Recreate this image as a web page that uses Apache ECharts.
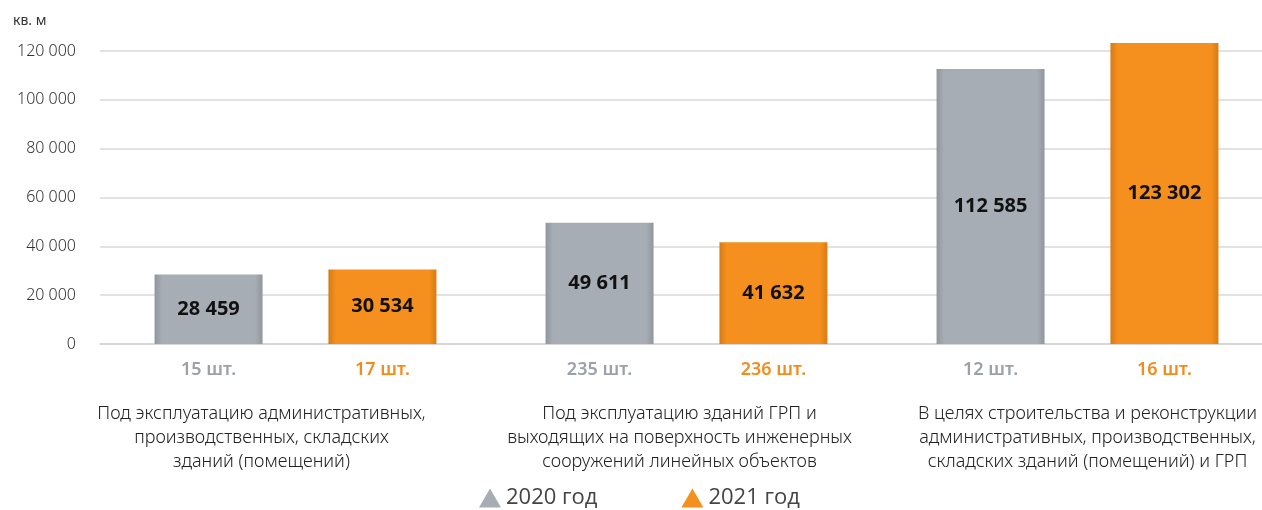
<!DOCTYPE html>
<html>
<head>
<meta charset="utf-8">
<script src="https://cdn.jsdelivr.net/npm/echarts@6/dist/echarts.min.js"></script>
<style>
  html, body { margin: 0; padding: 0; background: #fff; }
  #chart { width: 1262px; height: 510px; }
</style>
</head>
<body>
<div id="chart"></div>
<script>
// данные
var categories = [
    'Под эксплуатацию административных,\nпроизводственных, складских\nзданий (помещений)',
    'Под эксплуатацию зданий ГРП и\nвыходящих на поверхность инженерных\nсооружений линейных объектов',
    'В целях строительства и реконструкции\nадминистративных, производственных,\nскладских зданий (помещений) и ГРП'
];
var values2020 = [28459, 49611, 112585];
var values2021 = [30534, 41632, 123302];
var counts2020 = ['15 шт.', '235 шт.', '12 шт.'];
var counts2021 = ['17 шт.', '236 шт.', '16 шт.'];
var yTicks = { min: 0, max: 120000, step: 20000 };

var font = '"Noto Sans", "Open Sans", sans-serif';

function fmt(v) {
    return String(v).replace(/\B(?=(\d{3})+(?!\d))/g, ' ');
}

function barGradient(edge, mid) {
    return new echarts.graphic.LinearGradient(0, 0, 1, 0, [
        { offset: 0, color: edge },
        { offset: 0.07, color: mid },
        { offset: 0.93, color: mid },
        { offset: 1, color: edge }
    ]);
}

var chart = echarts.init(document.getElementById('chart'));

var valueLabel = {
    show: true,
    position: 'inside',
    color: '#111',
    fontFamily: font,
    fontWeight: 'bold',
    fontSize: 20,
    formatter: function (p) { return fmt(p.value); }
};

function countSeries(name, stack, counts, color) {
    return {
        name: name,
        type: 'bar',
        stack: stack,
        barWidth: 108,
        barGap: '61%',
        data: [0, 0, 0],
        itemStyle: { color: 'transparent' },
        label: {
            show: true,
            position: 'bottom',
            distance: 17,
            color: color,
            fontFamily: font,
            fontWeight: 600,
            fontSize: 18,
            formatter: function (p) { return counts[p.dataIndex]; }
        },
        silent: true
    };
}

var option = {
    backgroundColor: '#ffffff',
    animation: false,
    title: {
        text: 'кв. м',
        left: 8,
        top: 9,
        textStyle: { fontFamily: font, fontSize: 14, fontWeight: 'normal', color: '#333' }
    },
    legend: {
        left: 474,
        bottom: -4,
        icon: 'triangle',
        itemWidth: 22,
        itemHeight: 19,
        itemGap: 84,
        textStyle: { fontFamily: '"Open Sans", sans-serif', fontSize: 22, color: '#444' },
        data: [
            { name: '2020 год', itemStyle: { color: '#a7adb4' } },
            { name: '2021 год', itemStyle: { color: '#f5901e' } }
        ]
    },
    grid: {
        top: 51,
        bottom: 166,
        left: 100,
        width: 1173,
        outerBoundsMode: 'none'
    },
    xAxis: {
        type: 'category',
        data: [
            { value: categories[0], textStyle: { padding: [0, 68, 0, 0] } },
            { value: categories[1], textStyle: { padding: [0, 14, 0, 0] } },
            { value: categories[2], textStyle: { padding: [0, 0, 0, 20] } }
        ],
        axisLine: { lineStyle: { color: '#d4d4d4', width: 1.5 } },
        axisTick: { show: false },
        axisLabel: {
            interval: 0,
            margin: 58,
            lineHeight: 24,
            fontFamily: font,
            fontWeight: 300,
            fontSize: 18,
            color: '#222'
        }
    },
    yAxis: {
        type: 'value',
        min: yTicks.min,
        max: yTicks.max,
        interval: yTicks.step,
        axisLine: { show: false },
        axisTick: { show: false },
        splitLine: { lineStyle: { color: '#d9d9d9', width: 1.5 } },
        axisLabel: {
            margin: 24,
            fontFamily: font,
            fontWeight: 300,
            fontSize: 16,
            color: '#333',
            formatter: function (v) { return fmt(v); }
        }
    },
    series: [
        countSeries('шт. 2020', 'a', counts2020, '#9ba1a7'),
        {
            name: '2020 год',
            type: 'bar',
            stack: 'a',
            clip: false,
            barWidth: 108,
            barGap: '61%',
            data: values2020,
            itemStyle: { color: barGradient('#8f969d', '#a7adb4') },
            label: valueLabel
        },
        countSeries('шт. 2021', 'b', counts2021, '#f28c1c'),
        {
            name: '2021 год',
            type: 'bar',
            stack: 'b',
            clip: false,
            barWidth: 108,
            barGap: '61%',
            data: values2021,
            itemStyle: { color: barGradient('#d77b14', '#f5901e') },
            label: valueLabel
        }
    ]
};

chart.setOption(option);
</script>
</body>
</html>
